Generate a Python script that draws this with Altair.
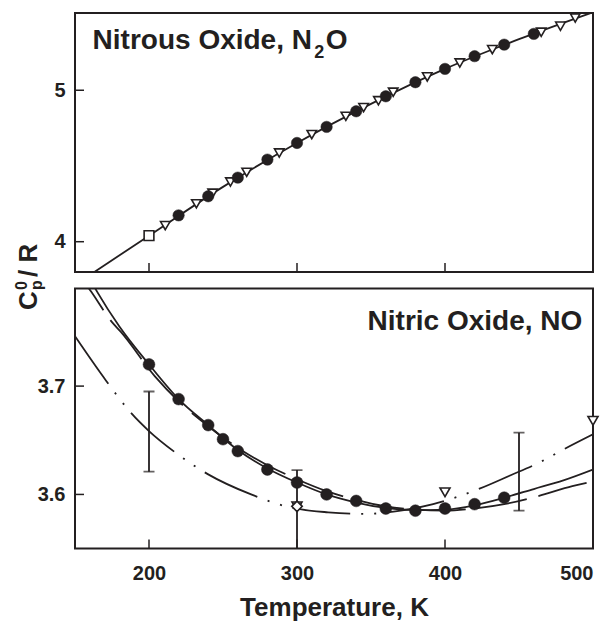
import altair as alt
import pandas as pd

FONT = "Liberation Sans"
INK = "#231f20"

# ---------------- data ----------------
x_tick_vals = [200, 300, 400]
x_label_vals = [200, 300, 400, 500]
n2o_tick_vals = [4, 5]
no_tick_vals = [3.6, 3.7]

top_title = ["Nitrous Oxide, N", "2", "O"]
bottom_title = ["Nitric Oxide, NO"]
y_title = ["C", "0", "p", "/ R"]
x_title = "Temperature, K"

# N2O panel
n2o_line_T = [150, 200, 250, 300, 350, 400, 450, 500]
n2o_line_cp = [3.715, 4.040, 4.362, 4.652, 4.910, 5.141, 5.337, 5.515]
n2o_circ_T = [220, 240, 260, 280, 300, 320, 340, 360, 380, 400, 420, 440, 460]
n2o_circ_cp = [4.174, 4.300, 4.423, 4.542, 4.652, 4.758, 4.861, 4.960, 5.053, 5.141, 5.225, 5.301, 5.372]
n2o_tri_T = [211, 232, 243, 255, 266, 288, 310, 333, 345, 355, 365, 388, 410, 432, 465, 478, 488]
n2o_tri_cp = [4.106, 4.250, 4.320, 4.394, 4.458, 4.586, 4.707, 4.828, 4.885, 4.931, 4.987, 5.088,
              5.180, 5.268, 5.383, 5.423, 5.477]
n2o_sq_T = [200]
n2o_sq_cp = [4.040]

# NO panel
no_circ_T = [200, 220, 240, 250, 260, 280, 300, 320, 340, 360, 380, 400, 420, 440]
no_circ_cp = [3.720, 3.688, 3.664, 3.651, 3.640, 3.623, 3.611, 3.600, 3.594, 3.587, 3.585, 3.587, 3.591, 3.597]
no_solid_T = [150, 165, 180, 200, 220, 240, 260, 280, 300, 320, 340, 360, 380, 400, 420, 440, 460, 480, 500]
no_solid_cp = [3.825, 3.787, 3.755, 3.720, 3.688, 3.664, 3.641, 3.624, 3.611, 3.600, 3.5925, 3.5875,
               3.5855, 3.586, 3.590, 3.597, 3.605, 3.613, 3.623]
no_dash_T = [150, 161, 175, 181, 204, 220, 240, 260, 280, 300, 320, 340, 360, 380, 400, 420, 440, 463, 486, 500]
no_dash_cp = [3.808, 3.787, 3.759, 3.750, 3.709, 3.686, 3.663, 3.643, 3.627, 3.614, 3.603, 3.595, 3.589,
              3.586, 3.585, 3.587, 3.591, 3.5985, 3.6077, 3.612]
no_dd_T = [150, 171, 188, 200, 218, 240, 269, 297, 321, 345, 370, 392, 422, 444, 463, 480, 500]
no_dd_cp = [3.746, 3.705, 3.675, 3.6585, 3.6385, 3.6185, 3.600, 3.5875, 3.5835, 3.582, 3.585, 3.591,
            3.6046, 3.6175, 3.629, 3.6415, 3.6555]
no_tri_T = [300, 400, 500]
no_tri_cp = [3.589, 3.602, 3.668]
no_dia_T = [300]
no_dia_cp = [3.589]
err_T = [200, 300, 450]
err_lo = [3.621, 3.540, 3.585]
err_hi = [3.695, 3.6225, 3.657]

# ---------------- layout constants ----------------
W = 518
H1 = 259
H2 = 260
TICK = 9

xscale = alt.Scale(domain=[150, 500], nice=False, zero=False)
y1scale = alt.Scale(domain=[3.8, 5.51], nice=False, zero=False)
y2scale = alt.Scale(domain=[3.55, 3.79], nice=False, zero=False)


def df(**cols):
    return pd.DataFrame(cols)


def X(top):
    if top:
        return alt.X("T:Q", scale=xscale, axis=None)
    return alt.X("T:Q", scale=xscale, axis=alt.Axis(
        values=x_label_vals, format="d", ticks=False, tickSize=0, domain=False, grid=False,
        labelFont=FONT, labelFontSize=20, labelFontWeight="bold", labelColor=INK, labelPadding=15,
        title=x_title, titleFont=FONT, titleFontSize=26, titleFontWeight="bold", titleColor=INK,
        titlePadding=11))


def Y(top):
    return alt.Y("Cp:Q", scale=y1scale if top else y2scale, axis=alt.Axis(
        values=n2o_tick_vals if top else no_tick_vals, format="d" if top else ".1f",
        ticks=False, tickSize=0, domain=False, grid=False,
        labelFont=FONT, labelFontSize=20, labelFontWeight="bold", labelColor=INK, labelPadding=10,
        title=None))


def text(s, x, y, size, angle=0, align="left"):
    return alt.Chart(df(s=[s])).mark_text(
        align=align, baseline="alphabetic", font=FONT, fontSize=size, fontWeight="bold",
        color=INK, angle=angle).encode(text="s:N", x=alt.value(x), y=alt.value(y))


def line(T, cp, top, dash=None):
    kw = dict(clip=True, color=INK, strokeWidth=1.8, interpolate="monotone")
    if dash:
        kw["strokeDash"] = dash
    return alt.Chart(df(T=T, Cp=cp)).mark_line(**kw).encode(x=X(top), y=Y(top))


def pts(T, cp, top, shape, size, filled):
    if filled:
        m = alt.Chart(df(T=T, Cp=cp)).mark_point(shape=shape, size=size, filled=True, fill=INK,
                                                 stroke=INK, strokeWidth=0.5, opacity=1)
    else:
        m = alt.Chart(df(T=T, Cp=cp)).mark_point(shape=shape, size=size, filled=True, fill="white",
                                                 stroke=INK, strokeWidth=1.6, opacity=1)
    return m.encode(x=X(top), y=Y(top))


def xticks(top, h):
    return alt.Chart(df(T=x_tick_vals)).mark_rule(color=INK, strokeWidth=1.5).encode(
        x=X(top), y=alt.value(h - TICK), y2=alt.value(h))


def yticks(vals, top):
    return alt.Chart(df(Cp=vals)).mark_rule(color=INK, strokeWidth=1.5).encode(
        y=Y(top), x=alt.value(0), x2=alt.value(TICK))


LX = 75.7
TY = 10.0

top = alt.layer(
    line(n2o_line_T, n2o_line_cp, True),
    xticks(True, H1),
    yticks(n2o_tick_vals, True),
    pts(n2o_tri_T, n2o_tri_cp, True, "triangle-down", 90, False),
    pts(n2o_sq_T, n2o_sq_cp, True, "square", 95, False),
    pts(n2o_circ_T, n2o_circ_cp, True, "circle", 130, True),
    text(top_title[0], 93.3 - LX, 45.7 - TY, 28),
    text(top_title[1], 315 - LX, 55 - TY, 18),
    text(top_title[2], 326.5 - LX, 45.7 - TY, 28),
    text(y_title[0], 38 - LX, 307 - TY, 26, angle=270),
    text(y_title[1], 28 - LX, 287 - TY, 16, angle=270),
    text(y_title[2], 43 - LX, 287 - TY, 16, angle=270),
    text(y_title[3], 38 - LX, 274 - TY, 26, angle=270),
).properties(width=W, height=H1)

err_bar = alt.Chart(df(T=err_T, Cp=err_lo, hi=err_hi)).mark_rule(
    color=INK, strokeWidth=1.8, clip=True).encode(x=X(False), y=Y(False), y2="hi:Q")
cap_hi = alt.Chart(df(T=err_T, Cp=err_hi)).mark_tick(
    color=INK, orient="horizontal", size=11, thickness=1.8, clip=True).encode(x=X(False), y=Y(False))
cap_lo = alt.Chart(df(T=err_T, Cp=err_lo)).mark_tick(
    color=INK, orient="horizontal", size=11, thickness=1.8, clip=True).encode(x=X(False), y=Y(False))

bottom = alt.layer(
    line(no_dd_T, no_dd_cp, False, [58, 11, 2, 11, 2, 11]),
    line(no_dash_T, no_dash_cp, False, [50, 12]),
    line(no_solid_T, no_solid_cp, False),
    err_bar, cap_hi, cap_lo,
    xticks(False, H2),
    yticks(no_tick_vals, False),
    pts(no_tri_T, no_tri_cp, False, "triangle-down", 100, False),
    pts(no_dia_T, no_dia_cp, False, "diamond", 110, False),
    pts(no_circ_T, no_circ_cp, False, "circle", 140, True),
    text(bottom_title[0], 583 - LX, 41, 28, align="right"),
).properties(width=W, height=H2)

chart = alt.vconcat(top, bottom, spacing=16.6, bounds="flush").configure_view(
    stroke=INK, strokeWidth=2).properties(
    padding={"left": 5, "top": 1, "right": 0, "bottom": 0})

chart.save("out.html", embed_options={"renderer": "svg", "actions": False})
